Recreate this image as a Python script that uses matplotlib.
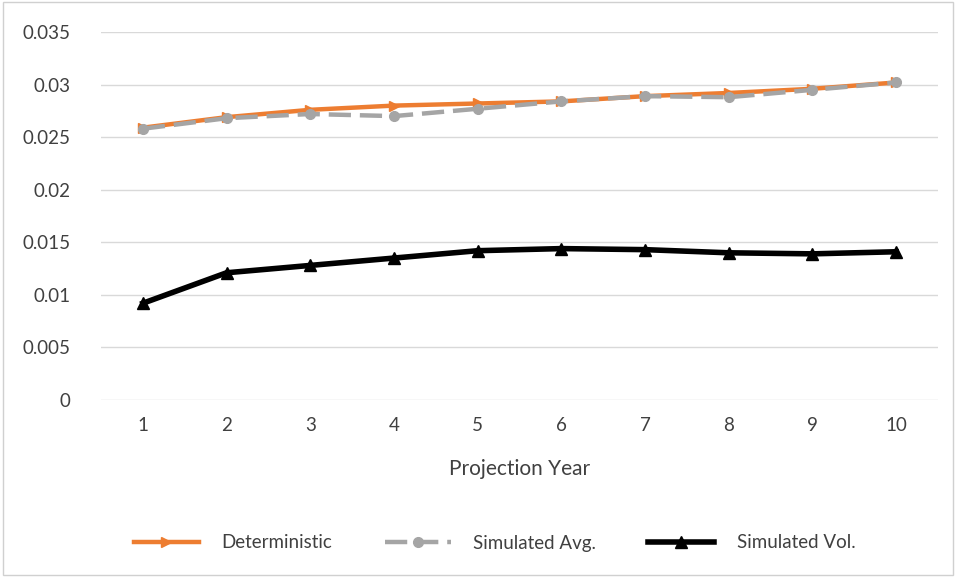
import matplotlib.pyplot as plt
from matplotlib.patches import Rectangle

years = [1, 2, 3, 4, 5, 6, 7, 8, 9, 10]
deterministic = [0.0259, 0.0269, 0.0276, 0.0280, 0.0282, 0.0284, 0.0289, 0.0292, 0.0296, 0.0302]
simulated_avg = [0.0258, 0.0268, 0.0272, 0.0270, 0.0277, 0.0284, 0.0289, 0.0288, 0.0295, 0.0302]
simulated_vol = [0.0092, 0.0121, 0.0128, 0.0135, 0.0142, 0.0144, 0.0143, 0.0140, 0.0139, 0.0141]
yticks = [0, 0.005, 0.01, 0.015, 0.02, 0.025, 0.03, 0.035]
ytick_labels = ["0", "0.005", "0.01", "0.015", "0.02", "0.025", "0.03", "0.035"]

plt.rcParams['font.family'] = ['Lato', 'DejaVu Sans']

fig = plt.figure(figsize=(9.56, 5.77), dpi=100)
ax = fig.add_axes([101/956, 1 - 400/577, (938-101)/956, (400-32)/577])

ax.plot(years, deterministic, color='#ED7D31', lw=3.2, marker='>', ms=7,
        label='Deterministic', zorder=3)
ax.plot(years, simulated_avg, color='#A5A5A5', lw=3.2, ls=(0, (5, 2)), marker='o', ms=7,
        label='Simulated Avg.', zorder=4)
ax.plot(years, simulated_vol, color='black', lw=4, marker='^', ms=8,
        label='Simulated Vol.', zorder=5)

ax.set_xlim(0.5, 10.5)
ax.set_ylim(0, 0.035)
ax.set_xticks(years)
ax.set_yticks(yticks)
ax.set_yticklabels(ytick_labels)
ax.tick_params(length=0, labelsize=13.5, colors='#404040', pad=12)
ax.tick_params(axis='y', pad=22)
ax.grid(axis='y', color='#D9D9D9', lw=1)
ax.set_axisbelow(True)
for s in ax.spines.values():
    s.set_visible(False)

ax.set_xlabel('Projection Year', fontsize=15, color='#404040', labelpad=18)

ax.legend(loc='center', bbox_to_anchor=(0.47, 1 - (543 - 32) / 368), ncol=3, frameon=False,
          fontsize=13.5, handlelength=3.5, handletextpad=1.2, columnspacing=2.8,
          labelcolor='#404040')

fig.add_artist(Rectangle((0.003, 0.003), 0.994, 0.994, transform=fig.transFigure,
                         fill=False, edgecolor='#D0D0D0', lw=1))

fig.savefig('out.png', dpi=100)
